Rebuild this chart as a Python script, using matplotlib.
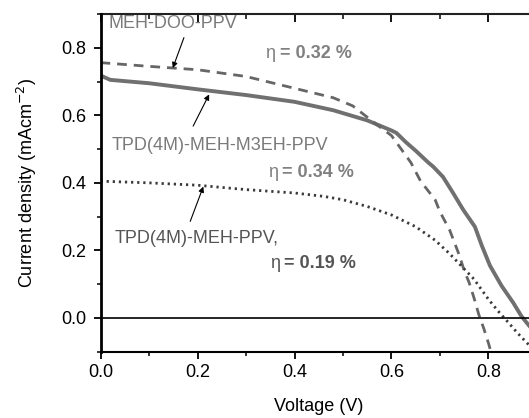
import matplotlib
matplotlib.use("Agg")
import matplotlib.pyplot as plt
from matplotlib.ticker import MultipleLocator

plt.rcParams['font.family'] = ['Liberation Sans', 'DejaVu Sans']

# TPD(4M)-MEH-M3EH-PPV (solid)
v_solid = [0.0, 0.02, 0.1, 0.2, 0.3, 0.4, 0.48, 0.55, 0.6, 0.61, 0.63, 0.65, 0.676, 0.686,
           0.706, 0.727, 0.748, 0.772, 0.786, 0.803, 0.827, 0.851, 0.868, 0.882, 0.9]
j_solid = [0.718, 0.705, 0.695, 0.677, 0.66, 0.64, 0.615, 0.585, 0.555, 0.548, 0.52, 0.495, 0.46, 0.448,
           0.418, 0.37, 0.32, 0.27, 0.215, 0.155, 0.095, 0.045, 0.005, -0.02, -0.05]

# MEH-DOO-PPV (dashed)
v_dash = [0.0, 0.1, 0.2, 0.3, 0.4, 0.48, 0.52, 0.57, 0.6, 0.62, 0.64, 0.66, 0.69, 0.70, 0.72,
          0.74, 0.75, 0.76, 0.77, 0.78, 0.79, 0.80, 0.805]
j_dash = [0.756, 0.745, 0.735, 0.715, 0.68, 0.652, 0.628, 0.572, 0.54, 0.50, 0.46, 0.405, 0.35, 0.314, 0.26,
          0.185, 0.14, 0.105, 0.06, 0.01, -0.03, -0.075, -0.1]

# TPD(4M)-MEH-PPV (dotted)
v_dot = [0.0, 0.1, 0.2, 0.3, 0.4, 0.46, 0.5, 0.55, 0.6, 0.65, 0.69, 0.72, 0.74, 0.77, 0.80,
         0.82, 0.84, 0.86, 0.88, 0.9]
j_dot = [0.405, 0.40, 0.393, 0.38, 0.37, 0.36, 0.35, 0.33, 0.305, 0.27, 0.23, 0.19, 0.16, 0.115, 0.055,
         0.02, -0.012, -0.045, -0.075, -0.1]

fig = plt.figure(figsize=(5.29, 4.18), dpi=100)
ax = fig.add_axes([0.19, 0.1586, 0.8251, 0.8079])

ax.plot(v_solid, j_solid, color='#707070', lw=2.8, solid_joinstyle='round')
ax.plot(v_dash, j_dash, color='#666666', lw=2.0, linestyle=(0, (3.5, 2.5)))
ax.plot(v_dot, j_dot, color='#3a3a3a', lw=2.0, linestyle=(0, (0.8, 1.4)))
ax.axhline(0, color='black', lw=1.2)

ax.set_xlim(0, 0.9)
ax.set_ylim(-0.1, 0.9)
ax.xaxis.set_minor_locator(MultipleLocator(0.1))
ax.yaxis.set_minor_locator(MultipleLocator(0.1))
ax.set_xticks([0.0, 0.2, 0.4, 0.6, 0.8])
ax.set_xticklabels(['0.0', '0.2', '0.4', '0.6', '0.8'])
ax.set_yticks([0.0, 0.2, 0.4, 0.6, 0.8])
ax.set_yticklabels(['0.0', '0.2', '0.4', '0.6', '0.8'])

ax.tick_params(axis='x', which='both', bottom=True, top=False, direction='out', labelsize=13, pad=4)
ax.tick_params(axis='y', which='both', left=True, right=False, direction='out', labelsize=13, pad=5)
ax.tick_params(which='major', length=5, width=1.3)
ax.tick_params(which='minor', length=3, width=1.1)

# top axis: inward ticks, no labels
top = ax.secondary_xaxis('top')
top.set_xticks([0.0, 0.2, 0.4, 0.6, 0.8])
top.xaxis.set_minor_locator(MultipleLocator(0.1))
top.tick_params(which='both', direction='in', labeltop=False, labelbottom=False)
top.tick_params(which='major', length=6, width=1.3)
top.tick_params(which='minor', length=3.5, width=1.1)
top.spines['top'].set_linewidth(1.5)
top.spines['top'].set_color('#222222')

ax.spines['left'].set_linewidth(2.0)
ax.spines['bottom'].set_linewidth(1.5)
ax.spines['top'].set_visible(False)
ax.spines['right'].set_visible(False)

ax.set_xlabel('Voltage (V)', fontsize=13, labelpad=12)
ax.set_ylabel('Current density (mAcm$^{-2}$)', fontsize=13, labelpad=16)

fs = 13
ax.text(0.0155, 0.873, 'MEH-DOO-PPV', color='#7a7a7a', fontsize=fs, va='center', ha='left')
ax.text(0.0237, 0.512, 'TPD(4M)-MEH-M3EH-PPV', color='#7a7a7a', fontsize=fs, va='center', ha='left')
ax.text(0.030, 0.234, 'TPD(4M)-MEH-PPV,', color='#555555', fontsize=fs, va='center', ha='left')

etas = [(0.339, 0.784, '= 0.32 %', '#808080'),
        (0.345, 0.430, '= 0.34 %', '#808080'),
        (0.349, 0.160, '= 0.19 %', '#555555')]
for x, y, s, c in etas:
    ax.text(x, y, '\u03b7', color=c, fontsize=fs, va='center', ha='left')
    ax.annotate(s, xy=(x, y), xytext=(10.5, 0), textcoords='offset points',
                color=c, fontsize=fs, fontweight='bold', va='center', ha='left')

arrow = dict(arrowstyle='-|>', color='black', lw=0.8, mutation_scale=8, shrinkA=0, shrinkB=0)
ax.annotate('', xy=(0.149, 0.740), xytext=(0.172, 0.830), arrowprops=arrow)
ax.annotate('', xy=(0.224, 0.662), xytext=(0.191, 0.568), arrowprops=arrow)
ax.annotate('', xy=(0.212, 0.389), xytext=(0.185, 0.286), arrowprops=arrow)

fig.savefig('out.png', dpi=100)
